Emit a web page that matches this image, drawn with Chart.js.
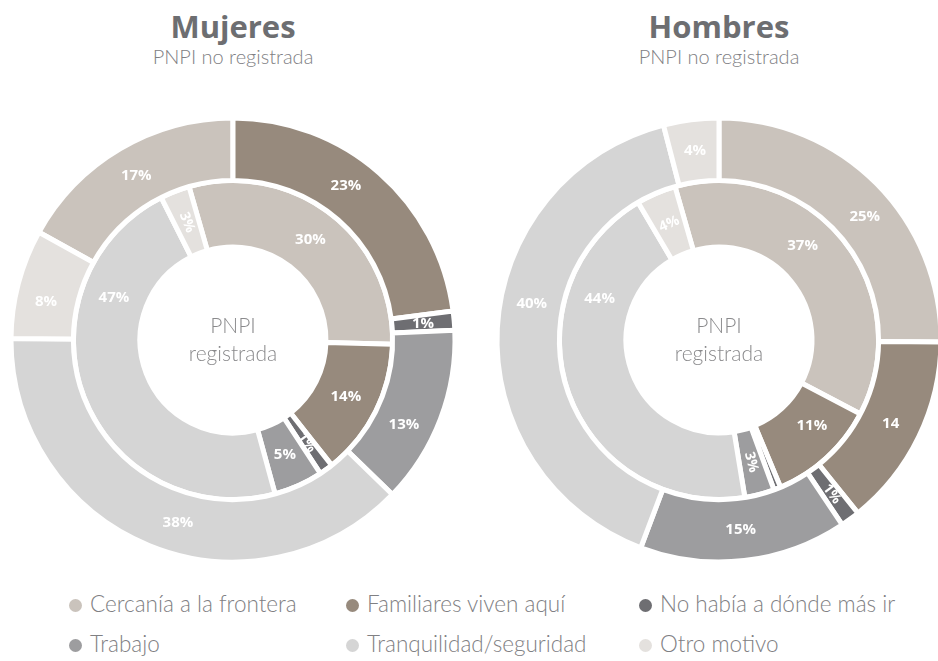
<!DOCTYPE html>
<html>
<head>
<meta charset="utf-8">
<script src="https://cdn.jsdelivr.net/npm/chart.js@4/dist/chart.umd.min.js"></script>
<style>
html,body{margin:0;padding:0;width:938px;height:661px;overflow:hidden;background:#fff;}
#wrap{position:relative;width:938px;height:661px;font-family:Lato,"Open Sans",sans-serif;}
.title{position:absolute;top:8px;width:466px;text-align:center;font-family:"Open Sans",sans-serif;font-weight:700;font-size:31px;line-height:36px;color:#6d6e71;}
.sub{position:absolute;top:45px;width:466px;text-align:center;font-size:20px;font-weight:300;line-height:22px;color:#808083;}
canvas{position:absolute;top:110px;}
.dot{position:absolute;width:13px;height:13px;border-radius:50%;}
.ltxt{position:absolute;font-size:22.5px;font-weight:300;line-height:24px;color:#808083;white-space:nowrap;}
</style>
</head>
<body>
<div id="wrap">
  <div class="title" style="left:0">Mujeres</div>
  <div class="sub" style="left:0">PNPI no registrada</div>
  <div class="title" style="left:486px">Hombres</div>
  <div class="sub" style="left:486px">PNPI no registrada</div>
  <canvas id="cM" width="466" height="460" style="left:0"></canvas>
  <canvas id="cH" width="466" height="460" style="left:486px"></canvas>
  <div id="legend"></div>
</div>
<script>
// ---- categories and colours ----
const categories = ["Cercanía a la frontera","Familiares viven aquí","No había a dónde más ir","Trabajo","Tranquilidad/seguridad","Otro motivo"];
const colors = ["#cac3bc","#978a7d","#6e6e72","#9d9d9f","#d5d5d5","#e4e1de"];

// ---- Mujeres ----
// outer ring: PNPI no registrada ; inner ring: PNPI registrada
const mujeresNoRegistrada = [17, 23, 1.4, 13, 38, 8];
const mujeresRegistrada   = [30, 14, 1.4, 5, 47, 3];
const mujeresNoRegLabels  = ["17%","23%","1%","13%","38%","8%"];
const mujeresRegLabels    = ["30%","14%","1%","5%","47%","3%"];

// ---- Hombres ----
const hombresNoRegistrada = [25, 14, 1.4, 15, 40, 4];
const hombresRegistrada   = [37, 11, 0.7, 3, 44, 4];
const hombresNoRegLabels  = ["25%","14","1%","15%","40%","4%"];
const hombresRegLabels    = ["37%","11%","","3%","44%","4%"];

const centerLines = ["PNPI","registrada"];

// label placement styles (fraction along slice, orientation h/r/t)
const styleMujeresOuter = {frac:[0.5,0.44,0.5,0.62,0.46,0.39], mode:["h","h","h","h","h","h"]};
const styleMujeresInner = {frac:[0.5,0.5,0.5,0.5,0.74,0.5],   mode:["h","h","r","h","h","r"]};
const styleHombresOuter = {frac:[0.55,0.5,0.5,0.5,0.555,0.5], mode:["h","h","r","h","h","h"]};
const styleHombresInner = {frac:[0.43,0.38,0.5,0.5,0.745,0.5],mode:["h","h","h","r","h","t"]};

const sum = a => a.reduce((s,v)=>s+v,0);

const sliceLabelPlugin = {
  id:'sliceLabels',
  afterDatasetsDraw(chart){
    const ctx = chart.ctx;
    chart.data.datasets.forEach((ds, di) => {
      const meta = chart.getDatasetMeta(di);
      meta.data.forEach((arc, i) => {
        const txt = ds.sliceLabels[i];
        if (!txt) return;
        const p = arc.getProps(['x','y','startAngle','endAngle','innerRadius','outerRadius'], true);
        const f = ds.labelStyle.frac[i];
        const a = p.startAngle + (p.endAngle - p.startAngle) * f;
        const r = (p.innerRadius + p.outerRadius) / 2;
        const px = p.x + Math.cos(a) * r, py = p.y + Math.sin(a) * r;
        const mode = ds.labelStyle.mode[i];
        let rot = 0;
        if (mode === 'r') rot = a;
        else if (mode === 't') rot = a + Math.PI / 2;
        while (rot > Math.PI / 2) rot -= Math.PI;
        while (rot <= -Math.PI / 2) rot += Math.PI;
        const small = (p.endAngle - p.startAngle) < 0.05;
        ctx.save();
        ctx.translate(px, py);
        ctx.rotate(rot);
        ctx.fillStyle = '#ffffff';
        ctx.font = small ? 'bold 11px "Open Sans"' : (mode === 'h' ? 'bold 15px "Open Sans"' : 'bold 14px "Open Sans"');
        ctx.textAlign = 'center';
        ctx.textBaseline = 'middle';
        ctx.fillText(txt, 0, 0);
        ctx.restore();
      });
    });
    const a0 = chart.getDatasetMeta(0).data[0];
    const cx = a0.x, cy = a0.y;
    ctx.save();
    ctx.fillStyle = '#8a8a8c';
    ctx.font = '300 21px Lato';
    ctx.textAlign = 'center';
    ctx.textBaseline = 'alphabetic';
    ctx.fillText(centerLines[0], cx, cy - 7);
    ctx.fillText(centerLines[1], cx, cy + 21);
    ctx.restore();
  }
};

function makeChart(id, outer, inner, outerLabels, innerLabels, outerStyle, innerStyle, outerRotation){
  return new Chart(document.getElementById(id), {
    type:'doughnut',
    data:{
      labels: categories,
      datasets:[
        {data: outer, backgroundColor: colors, borderColor:'#ffffff', borderWidth:5, weight:62.4,
         rotation: outerRotation, sliceLabels: outerLabels, labelStyle: outerStyle},
        {data: inner, backgroundColor: colors, borderColor:'#ffffff', borderWidth:5, weight:66.6,
         rotation: -16, sliceLabels: innerLabels, labelStyle: innerStyle}
      ]
    },
    options:{
      responsive:false, animation:false, events:[],
      radius:222, cutout:(93/222*100)+'%',
      layout:{padding:0},
      plugins:{legend:{display:false}, tooltip:{enabled:false}}
    },
    plugins:[sliceLabelPlugin]
  });
}

makeChart('cM', mujeresNoRegistrada, mujeresRegistrada, mujeresNoRegLabels, mujeresRegLabels,
  styleMujeresOuter, styleMujeresInner, -mujeresNoRegistrada[0] / sum(mujeresNoRegistrada) * 360);
makeChart('cH', hombresNoRegistrada, hombresRegistrada, hombresNoRegLabels, hombresRegLabels,
  styleHombresOuter, styleHombresInner, 0);

// legend (3 columns x 2 rows)
const legCols = [75, 352, 645];
const legRows = [605, 645];
const leg = document.getElementById('legend');
categories.forEach((c, i) => {
  const cx = legCols[i % 3], cy = legRows[Math.floor(i / 3)];
  const d = document.createElement('div');
  d.className = 'dot';
  d.style.left = (cx - 6.5) + 'px';
  d.style.top = (cy - 6.5) + 'px';
  d.style.background = colors[i];
  leg.appendChild(d);
  const t = document.createElement('div');
  t.className = 'ltxt';
  t.style.left = (cx + 15) + 'px';
  t.style.top = (cy - 13) + 'px';
  t.textContent = c;
  leg.appendChild(t);
});
</script>
</body>
</html>
